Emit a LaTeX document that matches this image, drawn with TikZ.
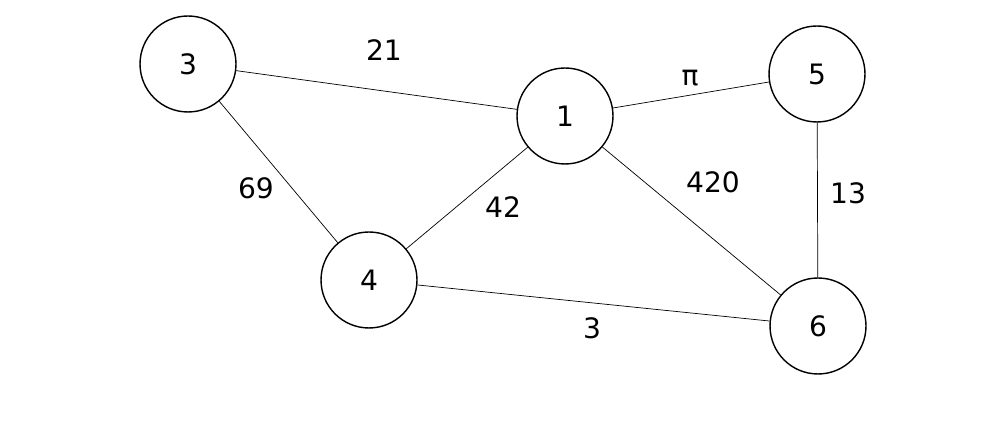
\documentclass[tikz,border=0pt]{standalone}
\usepackage{fontspec}
\setmainfont{DejaVu Sans}
\begin{document}
\begin{tikzpicture}[x=0.02cm,y=-0.02cm,
  v/.style={circle,draw,line width=0.8pt,minimum size=1.92cm,inner sep=0pt,font=\fontsize{16}{19}\selectfont},
  e/.style={draw,line width=0.4pt},
  w/.style={font=\fontsize{16}{19}\selectfont}]
\useasboundingbox (0,0) rectangle (1000,421);
\node[v] (n3) at (188,64) {3};
\node[v] (n1) at (565,116) {1};
\node[v] (n5) at (817,74) {5};
\node[v] (n4) at (369,280) {4};
\node[v] (n6) at (818,326) {6};
\draw[e] (n3) -- (n1);
\draw[e] (n1) -- (n5);
\draw[e] (n3) -- (n4);
\draw[e] (n1) -- (n4);
\draw[e] (n1) -- (n6);
\draw[e] (n5) -- (n6);
\draw[e] (n4) -- (n6);
\node[w] (l21) at (384,50) {21};
\node[w] (lpi) at (690,78) {π};
\node[w] (l69) at (256,188) {69};
\node[w] (l42) at (503,207) {42};
\node[w] (l420) at (713,182) {420};
\node[w] (l13) at (848,193) {13};
\node[w] (l3) at (592,328) {3};
\end{tikzpicture}
\end{document}
